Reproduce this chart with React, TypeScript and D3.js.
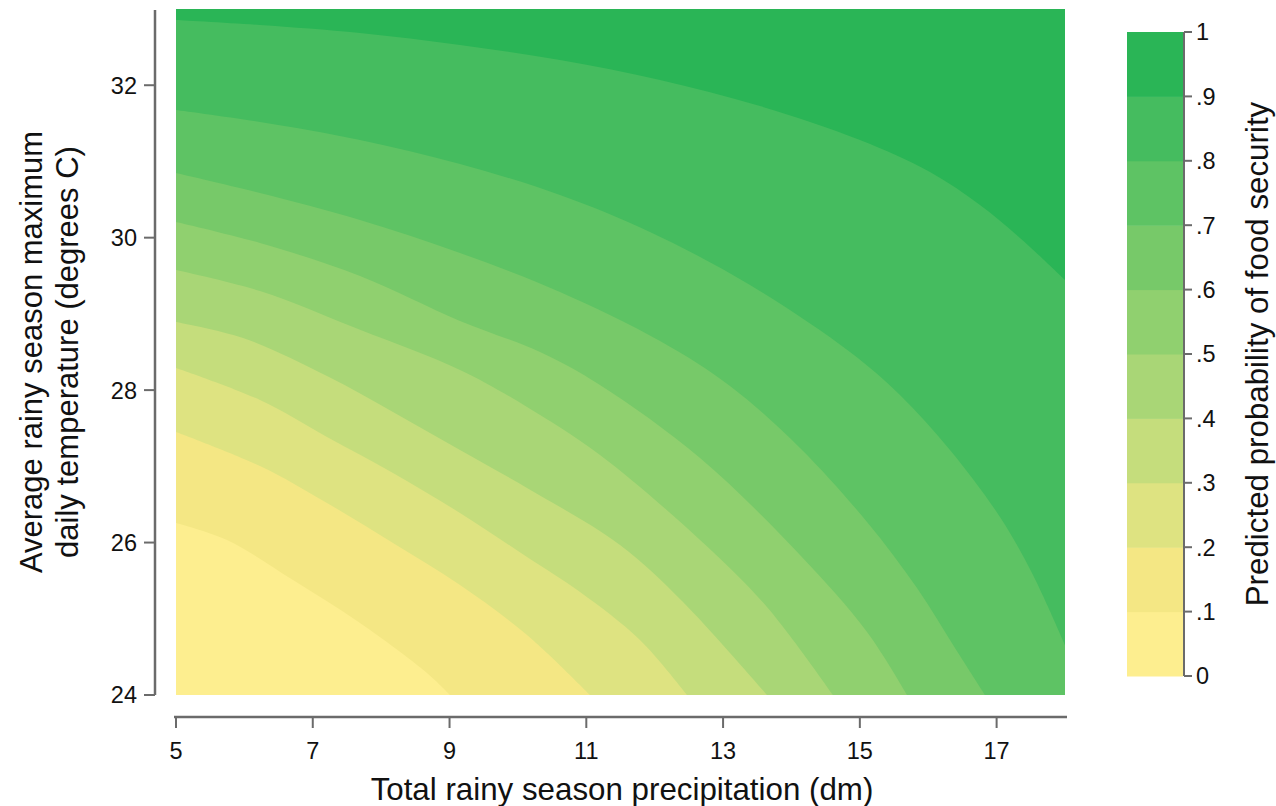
import React from "react";
import * as d3 from "d3";

type Pt = [number, number];

// Axis ticks
const precipTicks = [5, 7, 9, 11, 13, 15, 17];
const tempTicks = [24, 26, 28, 30, 32];
const legendLevels = [0, 0.1, 0.2, 0.3, 0.4, 0.5, 0.6, 0.7, 0.8, 0.9, 1];
const legendLabels = ["0", ".1", ".2", ".3", ".4", ".5", ".6", ".7", ".8", ".9", "1"];

// Band colours (0-.1 ... .9-1)
const bandColors = [
  "#fdee8f", "#f4e784", "#dee381", "#c5dd7c", "#a9d676",
  "#90d06f", "#77c969", "#5ec364", "#45bc5f", "#2ab556",
];

// Contour boundaries, [precipitation (dm), temperature (°C)]
const c10: Pt[] = [[5, 26.257], [5.746, 26.034], [6.711, 25.509], [7.691, 24.945], [8.67, 24.289], [9.007, 24]];
const c20: Pt[] = [[5, 27.451], [6.228, 27.004], [7.208, 26.519], [8.173, 25.994], [9.153, 25.443], [10.133, 24.787], [11.054, 24]];
const c30: Pt[] = [[5, 28.29], [6.228, 27.87], [7.208, 27.385], [8.173, 26.913], [9.153, 26.388], [10.133, 25.811], [10.908, 25.351], [11.785, 24.722], [12.472, 24]];
const c40: Pt[] = [[5, 28.895], [5.98, 28.684], [7.208, 28.185], [8.173, 27.713], [9.153, 27.214], [10.133, 26.716], [11.493, 25.968], [12.414, 25.22], [13.642, 24]];
const c50: Pt[] = [[5, 29.576], [6.228, 29.3], [7.691, 28.791], [9.153, 28.264], [10.133, 27.779], [11.2, 27.149], [12.663, 26.034], [13.642, 25.155], [14.607, 24]];
const c60: Pt[] = [[5, 30.207], [6.228, 29.93], [7.691, 29.497], [9.153, 28.908], [10.323, 28.5], [11.2, 28.067], [12.663, 27.109], [14.125, 25.837], [15.105, 24.827], [15.69, 24]];
const c70: Pt[] = [[5, 30.849], [6.228, 30.586], [7.691, 30.232], [9.153, 29.799], [10.615, 29.287], [12.078, 28.644], [13.101, 28.054], [14.125, 27.241], [15.105, 26.27], [15.836, 25.404], [16.391, 24.617], [16.83, 24]];
const c80: Pt[] = [[5, 31.675], [6.228, 31.518], [7.691, 31.282], [9.153, 30.967], [10.615, 30.56], [11.931, 30.075], [13.394, 29.379], [14.856, 28.5], [15.587, 27.936], [16.318, 27.214], [17.049, 26.335], [17.532, 25.574], [18, 24.656]];
const c90: Pt[] = [[5, 32.856], [6.228, 32.79], [7.691, 32.685], [9.153, 32.528], [10.615, 32.331], [12.078, 32.069], [13.54, 31.727], [15.002, 31.282], [16.026, 30.862], [16.757, 30.429], [17.342, 29.996], [18, 29.445]];

const contourLines = [c10, c20, c30, c40, c50, c60, c70, c80, c90];

const FONT = "'Liberation Sans', Arial, Helvetica, sans-serif";
const AXIS = "#6b6b6b";

export default function App() {
  const xMin = 5, xMax = 18, yMin = 24, yMax = 33;
  const x = d3.scaleLinear().domain([xMin, xMax]).range([176, 1065]);
  const y = d3.scaleLinear().domain([yMin, yMax]).range([695, 9]);
  const c = d3.scaleLinear().domain([0, 1]).range([676, 32]);

  const line = d3
    .line<Pt>()
    .x((d) => x(d[0]))
    .y((d) => y(d[1]))
    .curve(d3.curveCatmullRom.alpha(0.5));

  const regionPath = (pts: Pt[]) => {
    const last = pts[pts.length - 1];
    let p = line(pts) || "";
    if (last[0] < xMax) p += `L${x(xMax)},${y(yMin)}`;
    p += `L${x(xMax)},${y(yMax)}L${x(xMin)},${y(yMax)}Z`;
    return p;
  };

  const xAxisY = 717;
  const yAxisX = 155;
  const barX0 = 1127, barX1 = 1183;

  return (
    <svg
      width={1276}
      height={806}
      style={{ position: "absolute", left: 0, top: 0, background: "#fff" }}
      fontFamily={FONT}
    >
      <defs>
        <clipPath id="plotClip">
          <rect x={x(xMin)} y={y(yMax)} width={x(xMax) - x(xMin)} height={y(yMin) - y(yMax)} />
        </clipPath>
      </defs>
      {/* plot background: lowest band */}
      <rect x={x(xMin)} y={y(yMax)} width={x(xMax) - x(xMin)} height={y(yMin) - y(yMax)} fill={bandColors[0]} />
      <g clipPath="url(#plotClip)">
        {contourLines.map((pts, i) => (
          <path key={i} d={regionPath(pts)} fill={bandColors[i + 1]} stroke="none" />
        ))}
      </g>

      {/* Y axis */}
      <line x1={yAxisX} x2={yAxisX} y1={y(yMax) + 1} y2={y(yMin)} stroke={AXIS} strokeWidth={2.5} />
      {tempTicks.map((t) => (
        <g key={t}>
          <line x1={yAxisX - 11} x2={yAxisX} y1={y(t)} y2={y(t)} stroke={AXIS} strokeWidth={2} />
          <text x={137} y={y(t)} dy="0.36em" textAnchor="end" fontSize={23.5} fill="#111">
            {t}
          </text>
        </g>
      ))}
      <g transform="translate(42,352) rotate(-90)">
        <text textAnchor="middle" fontSize={31} fill="#111">Average rainy season maximum</text>
      </g>
      <g transform="translate(78,352) rotate(-90)">
        <text textAnchor="middle" fontSize={31} fill="#111">daily temperature (degrees C)</text>
      </g>

      {/* X axis */}
      <line x1={x(xMin) - 2} x2={x(xMax) + 2} y1={xAxisY} y2={xAxisY} stroke={AXIS} strokeWidth={2.5} />
      {precipTicks.map((t) => (
        <g key={t}>
          <line x1={x(t)} x2={x(t)} y1={xAxisY} y2={xAxisY + 11} stroke={AXIS} strokeWidth={2} />
          <text x={x(t)} y={759} textAnchor="middle" fontSize={23.5} fill="#111">
            {t}
          </text>
        </g>
      ))}
      <text x={622} y={800} textAnchor="middle" fontSize={31.3} fill="#111">
        Total rainy season precipitation (dm)
      </text>

      {/* Colour legend */}
      {bandColors.map((col, i) => (
        <rect
          key={i}
          x={barX0}
          y={c(legendLevels[i + 1])}
          width={barX1 - barX0}
          height={c(legendLevels[i]) - c(legendLevels[i + 1]) + 0.5}
          fill={col}
        />
      ))}
      <line x1={barX1 + 1} x2={barX1 + 1} y1={c(1)} y2={c(0)} stroke={AXIS} strokeWidth={2} />
      {legendLevels.map((v, i) => (
        <g key={i}>
          <line x1={barX1 + 1} x2={barX1 + 9} y1={c(v)} y2={c(v)} stroke={AXIS} strokeWidth={2} />
          <text x={1196} y={c(v)} dy="0.36em" fontSize={23.5} fill="#111">
            {legendLabels[i]}
          </text>
        </g>
      ))}
      <g transform="translate(1268,354) rotate(-90)">
        <text textAnchor="middle" fontSize={31.3} fill="#111">Predicted probability of food security</text>
      </g>
    </svg>
  );
}
